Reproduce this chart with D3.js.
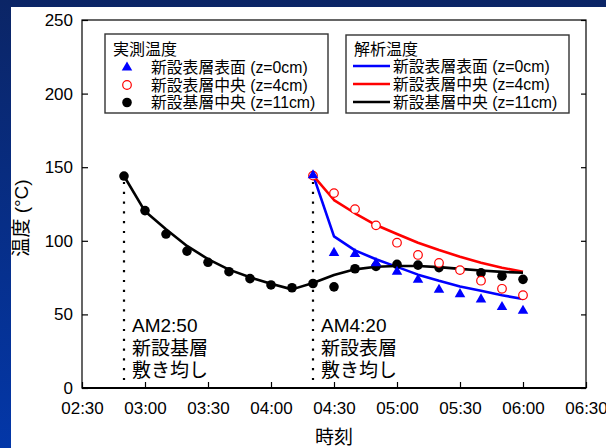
<!DOCTYPE html>
<html>
<head>
<meta charset="utf-8">
<script src="https://cdn.jsdelivr.net/npm/d3@7"></script>
<style>
  body { margin: 0; padding: 0; }
  svg { display: block; }
  text { font-family: "Liberation Sans", Arial, "Noto Sans CJK JP", sans-serif; fill: #000; }
</style>
</head>
<body>
<div id="container"></div>
<script>
// 実測温度 (measured, every 10 min)
const measTimes = ["02:50","03:00","03:10","03:20","03:30","03:40","03:50","04:00","04:10","04:20",
                   "04:30","04:40","04:50","05:00","05:10","05:20","05:30","05:40","05:50","06:00"];
const measBase = [144, 120.5, 104.6, 93, 85.4, 79, 74.3, 70, 68.1, 71,
                  68.7, 81, 82.6, 84, 83.5, 81.8, null, 78.2, 76, 73.8];
const surfTimes = ["04:20","04:30","04:40","04:50","05:00","05:10","05:20","05:30","05:40","05:50","06:00"];
const measSurf = [144.5, 91.8, 91, 84.8, 79, 73.5, 66.7, 63.8, 60.2, 55, 52.5];
const measMid = [144.3, 132.4, 121.5, 110.5, 98.7, 90.4, 85, 80.1, 72.9, 67.4, 63];

// 解析温度 (analysis)
const anaBase = [144, 120, 107.8, 96.5, 87.6, 80.4, 75.2, 70.8, 67, 71.3,
                 76.8, 80.6, 82.4, 82.9, 82.9, 82.1, 80.9, 79.8, 78.9, 78.3];
const anaSurf = [145, 103, 93.5, 87.5, 82.3, 77, 72.8, 69, 66, 63, 60.5];
const anaMid = [144.5, 127.7, 118.7, 110.7, 104.6, 98.7, 93.7, 89.2, 85.1, 81.7, 79];

const xTicks = ["02:30","03:00","03:30","04:00","04:30","05:00","05:30","06:00","06:30"];
const yTicks = [0, 50, 100, 150, 200, 250];

const seriesNames = ["新設表層表面 (z=0cm)", "新設表層中央 (z=4cm)", "新設基層中央 (z=11cm)"];
const eventTimes = ["02:50", "04:20"];
const eventTops = [140, 140];
const eventLabels = [["AM2:50","新設基層","敷き均し"], ["AM4:20","新設表層","敷き均し"]];

const W = 606, H = 448;
const margin = {top: 20, right: 20, bottom: 60, left: 82};

const parse = d3.timeParse("%H:%M");

const svg = d3.select("#container").append("svg")
    .attr("width", W).attr("height", H);

// slide background
const grad = svg.append("defs").append("linearGradient")
    .attr("id", "bg").attr("x1", 0).attr("y1", 0).attr("x2", 0).attr("y2", 1);
grad.append("stop").attr("offset", "0%").attr("stop-color", "#0b2566");
grad.append("stop").attr("offset", "100%").attr("stop-color", "#0337a8");
svg.append("rect").attr("width", W).attr("height", H).attr("fill", "url(#bg)");
svg.append("rect").attr("x", 11).attr("y", 7).attr("width", W - 11).attr("height", H - 7).attr("fill", "#fff");

const x = d3.scaleTime()
    .domain([parse(xTicks[0]), parse(xTicks[xTicks.length - 1])])
    .range([margin.left, W - margin.right]);
const y = d3.scaleLinear()
    .domain([0, 250])
    .range([H - margin.bottom, margin.top]);

const x0 = x.range()[0], x1 = x.range()[1], y0 = y.range()[0], y1 = y.range()[1];

// axes
const xAxis = svg.append("g")
    .attr("transform", `translate(0,${y0})`)
    .call(d3.axisBottom(x).tickValues(xTicks.map(parse)).tickFormat(d3.timeFormat("%H:%M"))
        .tickSizeInner(-6).tickSizeOuter(0).tickPadding(14));
const yAxis = svg.append("g")
    .attr("transform", `translate(${x0},0)`)
    .call(d3.axisLeft(y).tickValues(yTicks).tickSizeInner(-6).tickSizeOuter(0).tickPadding(9));
const yAxisR = svg.append("g")
    .attr("transform", `translate(${x1},0)`)
    .call(d3.axisRight(y).tickValues(yTicks).tickSizeInner(-5).tickSizeOuter(0).tickFormat(""));
[xAxis, yAxis, yAxisR].forEach(g => {
    g.select(".domain").remove();
    g.selectAll(".tick line").attr("stroke", "#000").attr("stroke-width", 1.2);
    g.selectAll("text").style("font-size", "17px").attr("fill", "#000");
});

// frame
svg.append("rect").attr("x", x0).attr("y", y1).attr("width", x1 - x0).attr("height", y0 - y1)
    .attr("fill", "none").attr("stroke", "#000").attr("stroke-width", 1.2);
svg.append("line").attr("x1", x0).attr("x2", x1).attr("y1", y0).attr("y2", y0)
    .attr("stroke", "#000").attr("stroke-width", 2.2);

// axis titles
svg.append("text").attr("x", (x0 + x1) / 2).attr("y", 444)
    .attr("text-anchor", "middle").style("font-size", "19px").text("時刻");
svg.append("text").attr("transform", "translate(28,218) rotate(-90)")
    .attr("text-anchor", "middle").style("font-size", "19px").text("温度 (°C)");

// event markers
eventTimes.forEach((t, i) => {
    const xx = x(parse(t));
    svg.append("line").attr("x1", xx).attr("x2", xx).attr("y1", y(eventTops[i])).attr("y2", y0 - 2)
        .attr("stroke", "#000").attr("stroke-width", 2.2).attr("stroke-dasharray", "2.2 7.6");
    eventLabels[i].forEach((s, j) => {
        svg.append("text").attr("x", xx + 8).attr("y", y0 - 56 + j * 22.5)
            .style("font-size", "19px").text(s);
    });
});

// analysis lines
const line = d3.line().defined(d => d[1] != null).x(d => x(d[0])).y(d => y(d[1]));
const zip = (ts, vs) => ts.map((t, i) => [parse(t), vs[i]]);
const lineSets = [
    {data: zip(surfTimes, anaSurf), color: "#0000ff"},
    {data: zip(surfTimes, anaMid), color: "#ff0000"},
    {data: zip(measTimes, anaBase), color: "#000000"}
];
svg.append("g").selectAll("path").data(lineSets).join("path")
    .attr("d", d => line(d.data))
    .attr("fill", "none").attr("stroke", d => d.color).attr("stroke-width", 2.6)
    .attr("stroke-linejoin", "round");

// measured points
svg.append("g").selectAll("circle")
    .data(zip(measTimes, measBase).filter(d => d[1] != null)).join("circle")
    .attr("cx", d => x(d[0])).attr("cy", d => y(d[1])).attr("r", 4.8).attr("fill", "#000");
svg.append("g").selectAll("circle")
    .data(zip(surfTimes, measMid)).join("circle")
    .attr("cx", d => x(d[0])).attr("cy", d => y(d[1])).attr("r", 4.3)
    .attr("fill", "#fff").attr("stroke", "#ff0000").attr("stroke-width", 1.2);
const tri = d3.symbol().type(d3.symbolTriangle).size(48);
svg.append("g").selectAll("path")
    .data(zip(surfTimes, measSurf)).join("path")
    .attr("transform", d => `translate(${x(d[0])},${y(d[1])})`)
    .attr("d", tri).attr("fill", "#0000ff");

// legend: 実測温度
const lg1 = svg.append("g").attr("transform", "translate(105,34)");
lg1.append("rect").attr("width", 223).attr("height", 79)
    .attr("fill", "#fff").attr("stroke", "#333").attr("stroke-width", 1.4);
lg1.append("text").attr("x", 8).attr("y", 15).attr("dy", "0.36em").style("font-size", "16px").text("実測温度");
seriesNames.forEach((s, i) => {
    const yy = 33.5 + i * 17.5;
    const row = lg1.append("g").attr("transform", `translate(22,${yy})`);
    if (i === 0) row.append("path").attr("d", tri).attr("fill", "#0000ff");
    if (i === 1) row.append("circle").attr("r", 4.3).attr("fill", "#fff").attr("stroke", "#ff0000").attr("stroke-width", 1.2);
    if (i === 2) row.append("circle").attr("r", 4.8).attr("fill", "#000");
    lg1.append("text").attr("x", 46).attr("y", yy).attr("dy", "0.36em").style("font-size", "15.8px").text(s);
});

// legend: 解析温度
const lg2 = svg.append("g").attr("transform", "translate(346,35)");
lg2.append("rect").attr("width", 223).attr("height", 78)
    .attr("fill", "#fff").attr("stroke", "#333").attr("stroke-width", 1.4);
lg2.append("text").attr("x", 8).attr("y", 14).attr("dy", "0.36em").style("font-size", "16px").text("解析温度");
const lineColors = ["#0000ff", "#ff0000", "#000000"];
seriesNames.forEach((s, i) => {
    const yy = 31 + i * 18;
    lg2.append("line").attr("x1", 7).attr("x2", 44).attr("y1", yy).attr("y2", yy)
        .attr("stroke", lineColors[i]).attr("stroke-width", 2.6);
    lg2.append("text").attr("x", 47).attr("y", yy).attr("dy", "0.36em").style("font-size", "15.8px").text(s);
});
</script>
</body>
</html>
